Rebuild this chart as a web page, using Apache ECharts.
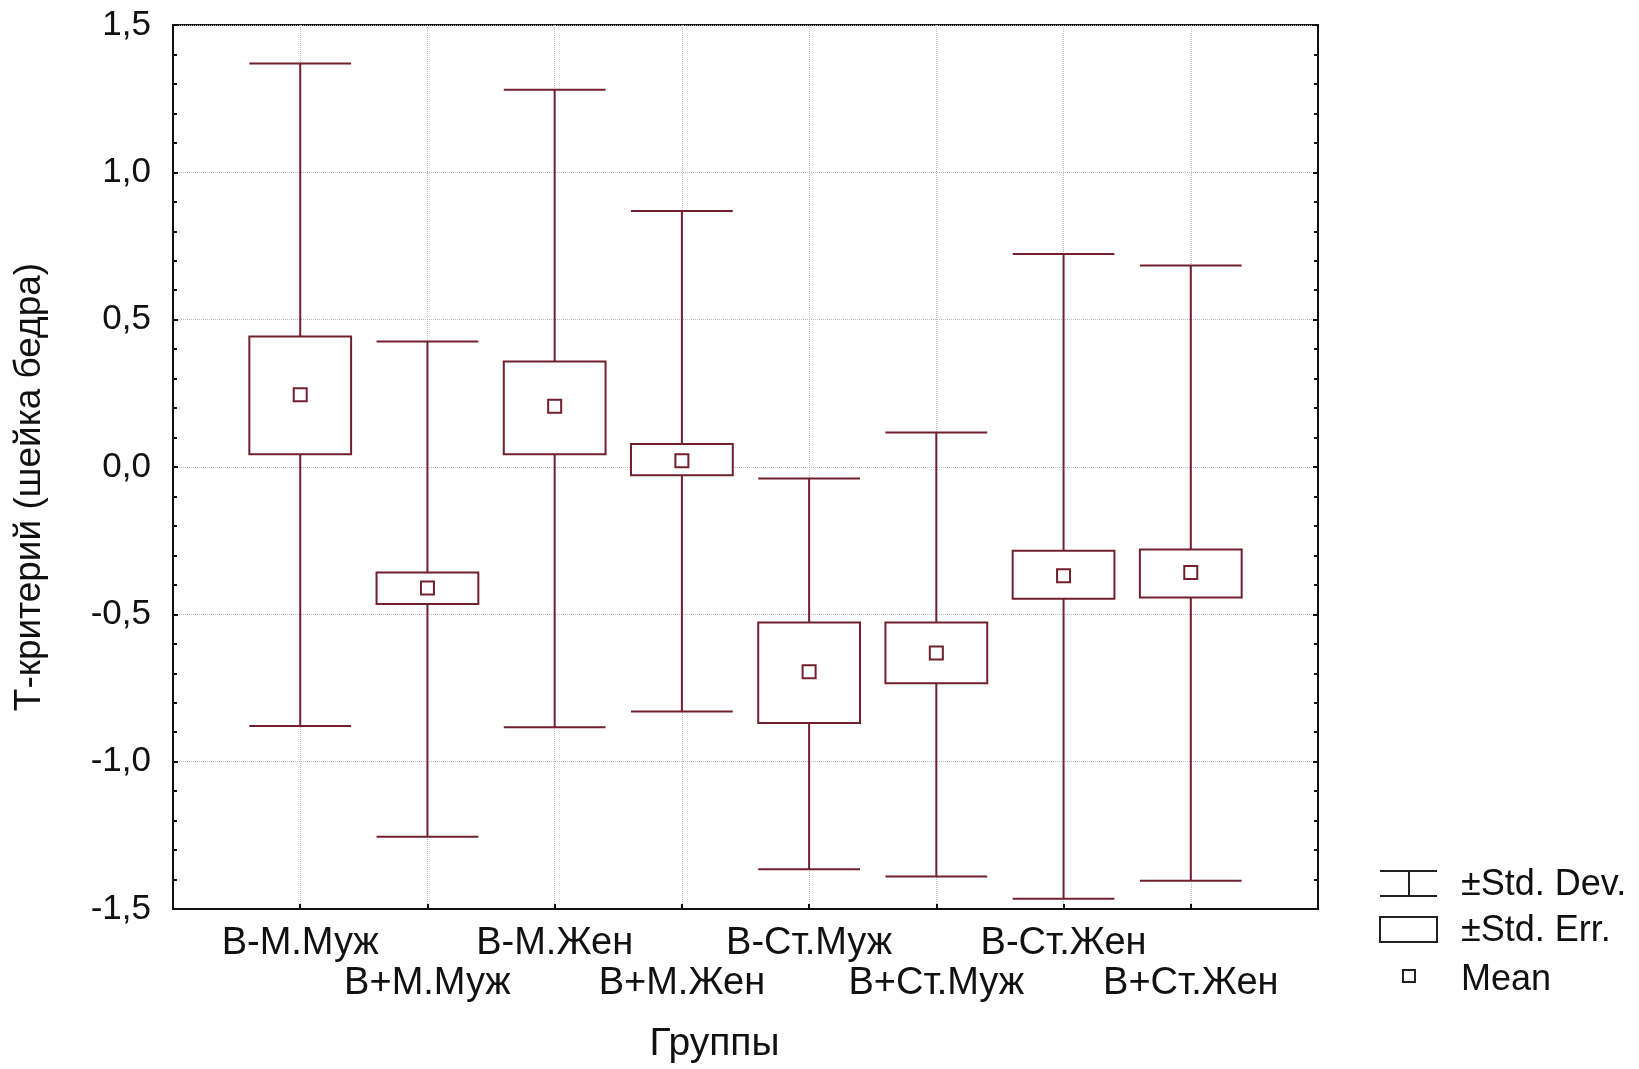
<!DOCTYPE html>
<html>
<head>
<meta charset="utf-8">
<script src="https://cdn.jsdelivr.net/npm/echarts@6/dist/echarts.min.js"></script>
<style>
  html, body { margin: 0; padding: 0; background: #fff; }
  #chart { width: 1639px; height: 1069px; }
</style>
</head>
<body>
<div id="chart"></div>
<script>
// groups along the x axis
var categories = ['В-М.Муж', 'В+М.Муж', 'В-М.Жен', 'В+М.Жен', 'В-Ст.Муж', 'В+Ст.Муж', 'В-Ст.Жен', 'В+Ст.Жен'];
// values
var means  = [0.245, -0.411, 0.206, 0.021, -0.695, -0.631, -0.369, -0.358];
var seLow  = [0.043, -0.465, 0.043, -0.028, -0.869, -0.734, -0.447, -0.443];
var seHigh = [0.443, -0.358, 0.358, 0.078, -0.528, -0.528, -0.284, -0.280];
var sdLow  = [-0.879, -1.255, -0.883, -0.830, -1.365, -1.390, -1.465, -1.404];
var sdHigh = [1.369, 0.426, 1.280, 0.869, -0.039, 0.117, 0.723, 0.684];

var C = '#721f2e';
var BOX_W = 0.8;
var FONT = 'Liberation Sans, Arial, sans-serif';

var sdData = categories.map(function (c, i) { return [i + 1, sdLow[i], sdHigh[i]]; });
var seData = categories.map(function (c, i) { return [i + 1, seLow[i], seHigh[i]]; });
var meanData = categories.map(function (c, i) { return [i + 1, means[i]]; });

var chart = echarts.init(document.getElementById('chart'));

chart.setOption({
  backgroundColor: '#fff',
  animation: false,
  grid: {
    left: 173, top: 25, right: 321, bottom: 159,
    show: true, borderColor: '#111', borderWidth: 2, backgroundColor: '#fff'
  },
  xAxis: {
    type: 'value',
    min: 0, max: 9, interval: 1,
    name: 'Группы',
    nameLocation: 'middle',
    nameGap: 116,
    nameTextStyle: { fontFamily: FONT, fontSize: 39, color: '#111', padding: [0, 62, 0, 0] },
    axisLine: { show: true, onZero: false, lineStyle: { color: '#111', width: 2 } },
    axisTick: { show: true, inside: true, length: 5, lineStyle: { color: '#111', width: 2 } },
    splitLine: { show: true, lineStyle: { color: '#bbb', type: 'dotted', width: 1 } },
    axisLabel: {
      fontFamily: FONT, fontSize: 38, color: '#111', margin: 15, lineHeight: 40,
      formatter: function (v) {
        if (v < 1 || v > categories.length) return '';
        var t = categories[v - 1];
        return (v % 2 === 0) ? '\n' + t : t;
      }
    }
  },
  yAxis: [{
    type: 'value',
    min: -1.5, max: 1.5, interval: 0.5,
    name: 'Т-критерий (шейка бедра)',
    nameLocation: 'middle',
    nameGap: 125,
    nameTextStyle: { fontFamily: FONT, fontSize: 37, color: '#111', padding: [0, 40, 0, 0] },
    axisLine: { show: true, lineStyle: { color: '#111', width: 2 } },
    axisTick: { show: true, inside: true, length: 5, lineStyle: { color: '#111', width: 2 } },
    minorTick: { show: true, splitNumber: 5, length: 4, lineStyle: { color: '#111', width: 2 } },
    splitLine: { show: true, lineStyle: { color: '#bbb', type: 'dotted', width: 1 } },
    axisLabel: {
      fontFamily: FONT, fontSize: 35, color: '#111', margin: 22,
      formatter: function (v) { return v.toFixed(1).replace('.', ','); }
    }
  }, {
    type: 'value',
    position: 'right',
    min: -1.5, max: 1.5, interval: 0.5,
    axisLine: { show: true, lineStyle: { color: '#111', width: 2 } },
    axisTick: { show: true, inside: true, length: 5, lineStyle: { color: '#111', width: 2 } },
    minorTick: { show: true, splitNumber: 5, length: 4, lineStyle: { color: '#111', width: 2 } },
    splitLine: { show: false },
    axisLabel: { show: false }
  }],
  series: [{
    name: '±Std. Dev.',
    type: 'custom',
    data: sdData,
    encode: { x: 0, y: [1, 2] },
    renderItem: function (params, api) {
      var x = api.value(0);
      var lo = api.coord([x, api.value(1)]);
      var hi = api.coord([x, api.value(2)]);
      var half = api.size([BOX_W, 0])[0] / 2;
      var st = { stroke: C, lineWidth: 2 };
      return {
        type: 'group',
        children: [
          { type: 'line', shape: { x1: lo[0], y1: lo[1], x2: hi[0], y2: hi[1] }, style: st },
          { type: 'line', shape: { x1: hi[0] - half, y1: hi[1], x2: hi[0] + half, y2: hi[1] }, style: st },
          { type: 'line', shape: { x1: lo[0] - half, y1: lo[1], x2: lo[0] + half, y2: lo[1] }, style: st }
        ]
      };
    }
  }, {
    name: '±Std. Err.',
    type: 'custom',
    data: seData,
    encode: { x: 0, y: [1, 2] },
    renderItem: function (params, api) {
      var x = api.value(0);
      var lo = api.coord([x, api.value(1)]);
      var hi = api.coord([x, api.value(2)]);
      var w = api.size([BOX_W, 0])[0];
      return {
        type: 'rect',
        shape: { x: lo[0] - w / 2, y: hi[1], width: w, height: lo[1] - hi[1] },
        style: { fill: '#fff', stroke: C, lineWidth: 2 }
      };
    }
  }, {
    name: 'Mean',
    type: 'custom',
    data: meanData,
    encode: { x: 0, y: 1 },
    renderItem: function (params, api) {
      var p = api.coord([api.value(0), api.value(1)]);
      var s = 13;
      return {
        type: 'rect',
        shape: { x: p[0] - s / 2, y: p[1] - s / 2, width: s, height: s },
        style: { fill: '#fff', stroke: C, lineWidth: 2 }
      };
    }
  }],
  graphic: [
    // legend
    { type: 'line', shape: { x1: 1380, y1: 871, x2: 1437, y2: 871 }, style: { stroke: '#222', lineWidth: 2 } },
    { type: 'line', shape: { x1: 1409, y1: 871, x2: 1409, y2: 896 }, style: { stroke: '#222', lineWidth: 2 } },
    { type: 'line', shape: { x1: 1380, y1: 896, x2: 1437, y2: 896 }, style: { stroke: '#222', lineWidth: 2 } },
    { type: 'text', x: 1461, y: 885, style: { text: '±Std. Dev.', font: '36px ' + FONT, fill: '#111', verticalAlign: 'middle' } },
    { type: 'rect', shape: { x: 1380, y: 917, width: 57, height: 25 }, style: { fill: '#fff', stroke: '#222', lineWidth: 2 } },
    { type: 'text', x: 1461, y: 931, style: { text: '±Std. Err.', font: '36px ' + FONT, fill: '#111', verticalAlign: 'middle' } },
    { type: 'rect', shape: { x: 1403, y: 970, width: 12, height: 12 }, style: { fill: '#fff', stroke: '#222', lineWidth: 2 } },
    { type: 'text', x: 1461, y: 980, style: { text: 'Mean', font: '36px ' + FONT, fill: '#111', verticalAlign: 'middle' } }
  ]
});
</script>
</body>
</html>
